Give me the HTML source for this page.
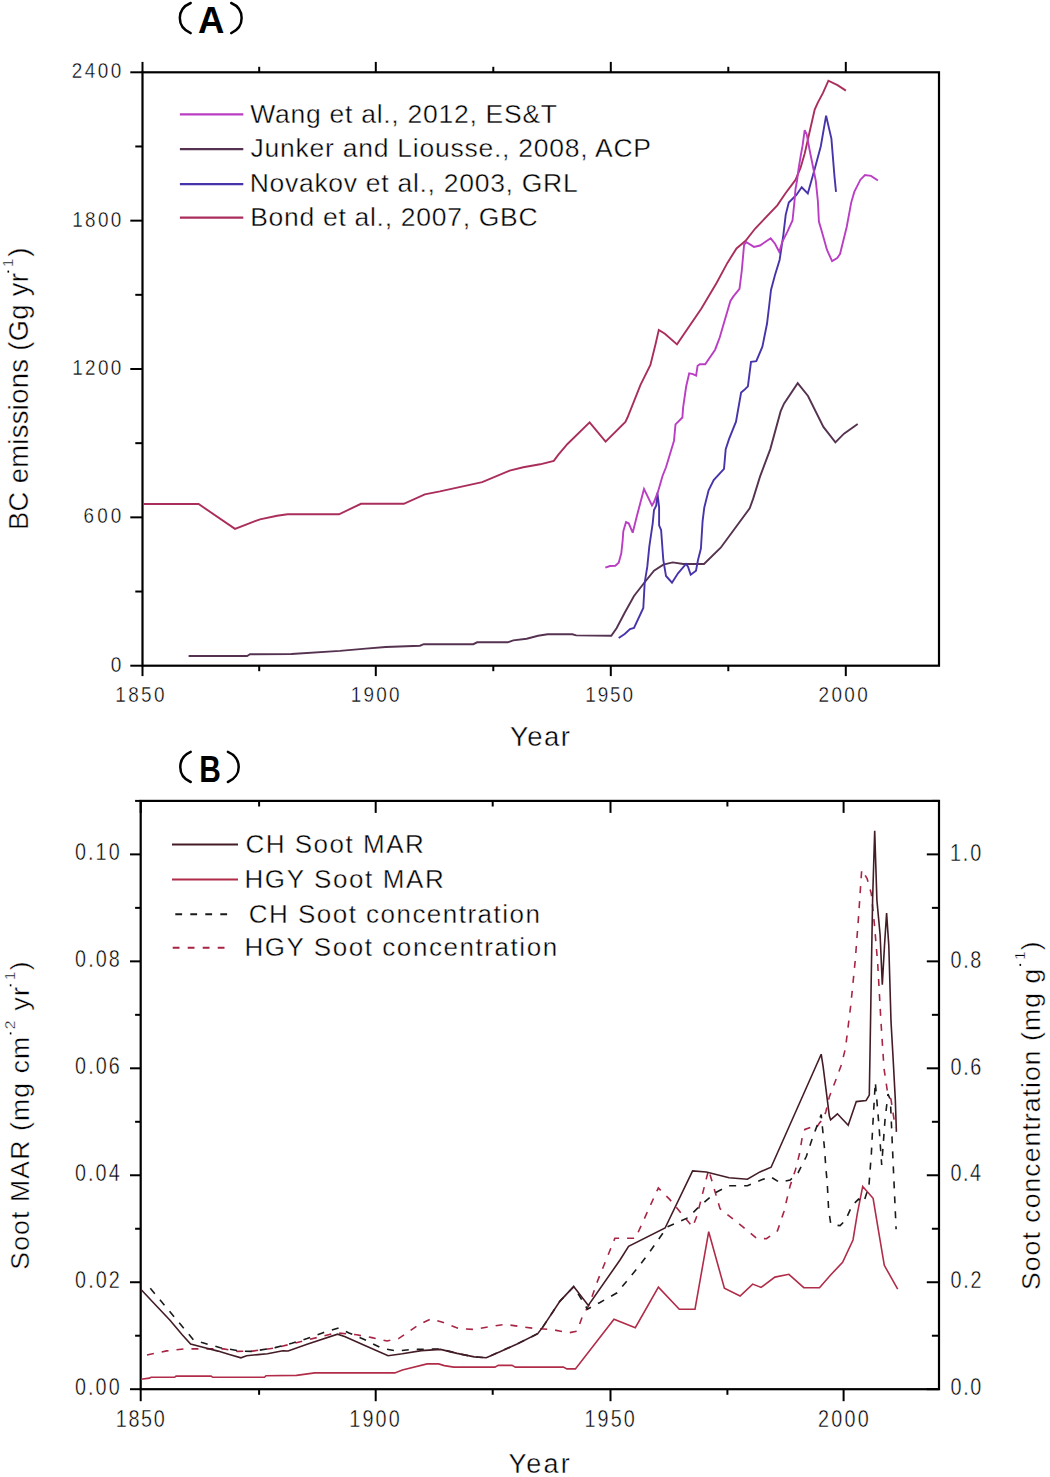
<!DOCTYPE html>
<html><head><meta charset="utf-8"><title>BC emissions and soot</title>
<style>
html,body{margin:0;padding:0;background:#fff;}
body{width:1050px;height:1477px;overflow:hidden;}
svg{display:block;}
svg text{font-family:"Liberation Sans", sans-serif;stroke:#fff;stroke-width:0.4px;}
</style></head>
<body>
<svg width="1050" height="1477" viewBox="0 0 1050 1477">
<rect x="0" y="0" width="1050" height="1477" fill="#fff"/>
<rect x="142.5" y="72.3" width="796.5" height="593.4000000000001" fill="none" stroke="#000" stroke-width="2.2"/>
<line x1="130.30" y1="665.70" x2="142.50" y2="665.70" stroke="#000" stroke-width="2"/>
<line x1="135.30" y1="591.53" x2="142.50" y2="591.53" stroke="#000" stroke-width="2"/>
<line x1="130.30" y1="517.35" x2="142.50" y2="517.35" stroke="#000" stroke-width="2"/>
<line x1="135.30" y1="443.17" x2="142.50" y2="443.17" stroke="#000" stroke-width="2"/>
<line x1="130.30" y1="369.00" x2="142.50" y2="369.00" stroke="#000" stroke-width="2"/>
<line x1="135.30" y1="294.82" x2="142.50" y2="294.82" stroke="#000" stroke-width="2"/>
<line x1="130.30" y1="220.65" x2="142.50" y2="220.65" stroke="#000" stroke-width="2"/>
<line x1="135.30" y1="146.47" x2="142.50" y2="146.47" stroke="#000" stroke-width="2"/>
<line x1="130.30" y1="72.30" x2="142.50" y2="72.30" stroke="#000" stroke-width="2"/>
<line x1="142.50" y1="665.70" x2="142.50" y2="676.10" stroke="#000" stroke-width="2"/>
<line x1="142.50" y1="72.30" x2="142.50" y2="61.90" stroke="#000" stroke-width="2"/>
<line x1="259.20" y1="665.70" x2="259.20" y2="671.20" stroke="#000" stroke-width="2"/>
<line x1="259.20" y1="72.30" x2="259.20" y2="66.80" stroke="#000" stroke-width="2"/>
<line x1="375.80" y1="665.70" x2="375.80" y2="676.10" stroke="#000" stroke-width="2"/>
<line x1="375.80" y1="72.30" x2="375.80" y2="61.90" stroke="#000" stroke-width="2"/>
<line x1="493.30" y1="665.70" x2="493.30" y2="671.20" stroke="#000" stroke-width="2"/>
<line x1="493.30" y1="72.30" x2="493.30" y2="66.80" stroke="#000" stroke-width="2"/>
<line x1="610.80" y1="665.70" x2="610.80" y2="676.10" stroke="#000" stroke-width="2"/>
<line x1="610.80" y1="72.30" x2="610.80" y2="61.90" stroke="#000" stroke-width="2"/>
<line x1="728.30" y1="665.70" x2="728.30" y2="671.20" stroke="#000" stroke-width="2"/>
<line x1="728.30" y1="72.30" x2="728.30" y2="66.80" stroke="#000" stroke-width="2"/>
<line x1="845.80" y1="665.70" x2="845.80" y2="676.10" stroke="#000" stroke-width="2"/>
<line x1="845.80" y1="72.30" x2="845.80" y2="61.90" stroke="#000" stroke-width="2"/>
<text transform="translate(111.40,671.60) scale(0.867,1.0)" x="-0.75" y="0" font-size="22" font-weight="400" fill="#000">0</text>
<text transform="translate(84.40,523.25) scale(0.86,1.0)" x="-1.00" y="0" font-size="22" font-weight="400" fill="#000" textLength="43.95" lengthAdjust="spacing">600</text>
<text transform="translate(73.70,374.90) scale(0.86,1.0)" x="-1.75" y="0" font-size="22" font-weight="400" fill="#000" textLength="57.12" lengthAdjust="spacing">1200</text>
<text transform="translate(73.80,226.55) scale(0.86,1.0)" x="-1.75" y="0" font-size="22" font-weight="400" fill="#000" textLength="57.01" lengthAdjust="spacing">1800</text>
<text transform="translate(72.60,78.20) scale(0.86,1.0)" x="-1.00" y="0" font-size="22" font-weight="400" fill="#000" textLength="57.65" lengthAdjust="spacing">2400</text>
<text transform="translate(116.70,701.70) scale(0.86,1.0)" x="-1.75" y="0" font-size="22" font-weight="400" fill="#000" textLength="57.47" lengthAdjust="spacing">1850</text>
<text transform="translate(352.20,701.70) scale(0.86,1.0)" x="-1.75" y="0" font-size="22" font-weight="400" fill="#000" textLength="56.77" lengthAdjust="spacing">1900</text>
<text transform="translate(586.80,701.70) scale(0.86,1.0)" x="-1.75" y="0" font-size="22" font-weight="400" fill="#000" textLength="55.38" lengthAdjust="spacing">1950</text>
<text transform="translate(819.40,701.70) scale(0.86,1.0)" x="-1.00" y="0" font-size="22" font-weight="400" fill="#000" textLength="57.30" lengthAdjust="spacing">2000</text>
<text x="509.95" y="746.30" font-size="27.5" font-weight="400" fill="#000" textLength="60.08" lengthAdjust="spacing">Year</text>
<path d="M190.7,3.0 C176.2,9.0 176.2,27.2 190.7,33.1" fill="none" stroke="#000" stroke-width="2.5" stroke-linecap="round"/>
<path d="M231.2,3.0 C245.1,9.0 245.1,27.2 231.2,33.1" fill="none" stroke="#000" stroke-width="2.5" stroke-linecap="round"/>
<text x="198.00" y="33.30" font-size="36.5" font-weight="700" fill="#000" style="stroke:none">A</text>
<text transform="translate(28.20,529.95) rotate(-90)" x="0" y="0" font-size="27.3" fill="#000" textLength="256.78" lengthAdjust="spacing">BC emissions (Gg yr</text>
<line x1="8.30" y1="272.60" x2="8.30" y2="270.60" stroke="#000" stroke-width="1.6"/>
<text transform="translate(12.6,267.2) rotate(-90)" font-size="15.5" fill="#000">1</text>
<text transform="translate(28.2,256.8) rotate(-90)" font-size="27.3" fill="#000">)</text>
<polyline points="142.9,504.0 198.6,504.0 235.0,528.9 260.0,519.3 277.1,515.7 287.6,514.3 339.0,514.3 361.0,503.8 403.8,503.8 424.8,494.3 440.0,491.4 482.2,482.1 509.6,470.7 523.3,467.3 540.1,464.3 553.8,460.8 558.4,454.7 567.5,444.0 589.6,422.4 605.6,441.7 625.4,421.9 627.5,417.5 640.5,384.8 650.4,365.0 655.7,343.6 658.8,329.9 664.9,333.7 677.0,344.4 701.4,308.6 716.7,282.7 727.4,262.9 736.5,248.4 745.6,240.8 755.2,228.5 777.3,205.3 785.5,193.2 795.5,179.9 800.6,167.7 804.7,153.5 807.7,140.3 814.7,109.6 817.7,102.8 823.0,92.9 828.4,80.7 837.5,85.2 845.9,90.6" fill="none" stroke="#AA2E5C" stroke-width="1.9" stroke-linejoin="miter" stroke-miterlimit="3"/>
<polyline points="188.6,656.0 247.1,656.0 250.0,654.3 291.4,654.0 340.0,650.9 365.7,648.6 385.7,647.0 420.0,645.7 423.8,644.2 473.3,644.2 477.1,642.3 507.6,642.3 513.3,640.4 526.7,638.7 538.1,635.8 547.6,634.3 572.4,634.3 576.2,635.4 611.3,635.7 616.7,628.0 624.7,612.7 634.0,596.0 643.3,584.0 654.0,570.7 663.3,564.7 672.7,562.4 683.3,564.0 704.0,564.0 720.7,547.7 749.7,508.3 753.1,498.9 760.0,476.6 770.3,449.1 780.6,411.4 784.0,403.7 797.7,383.1 808.0,396.0 823.4,426.9 835.4,442.3 844.0,433.7 857.7,424.0" fill="none" stroke="#553250" stroke-width="1.9" stroke-linejoin="miter" stroke-miterlimit="3"/>
<polyline points="618.7,638.0 624.7,634.0 630.0,629.0 634.0,628.0 643.3,608.0 644.7,582.7 647.3,566.7 649.3,546.7 652.7,523.3 654.0,510.0 656.3,505.4 657.4,492.9 659.1,507.1 659.1,525.4 661.1,530.0 663.3,560.0 666.0,576.0 672.0,582.7 678.0,573.3 686.0,564.0 688.0,566.7 690.7,574.7 696.0,570.7 698.0,560.0 700.9,548.6 702.6,521.2 704.3,507.4 708.6,490.3 713.7,480.0 724.0,468.9 725.7,449.1 729.1,438.9 736.0,421.7 741.1,392.6 744.1,390.1 747.9,386.3 751.0,361.9 756.3,361.1 762.4,346.7 767.0,323.8 769.2,305.5 771.0,290.0 775.0,275.0 779.6,260.0 783.4,234.6 785.7,214.8 788.8,202.6 796.4,195.0 801.7,187.3 807.8,193.4 814.7,169.0 820.8,146.2 826.1,115.7 831.4,138.6 834.5,176.7 836.0,191.9" fill="none" stroke="#4834AA" stroke-width="1.9" stroke-linejoin="miter" stroke-miterlimit="3"/>
<polyline points="605.3,567.7 610.0,566.0 615.3,565.7 618.7,562.7 621.3,553.3 622.7,540.0 623.3,531.3 626.0,522.0 628.7,523.3 632.7,532.7 636.7,516.7 644.0,488.9 652.0,505.4 654.0,502.0 658.0,491.7 662.6,475.7 666.0,467.3 674.0,440.7 675.5,424.4 682.4,417.5 683.1,407.6 686.2,386.3 689.2,373.3 693.0,374.1 696.1,375.6 697.6,365.7 699.9,364.2 705.2,364.2 715.1,349.7 719.7,337.5 730.4,301.0 733.4,296.4 739.5,288.8 741.8,270.5 744.1,244.6 746.4,242.3 754.0,246.9 760.0,245.5 770.7,238.3 775.0,243.7 779.3,252.0 782.3,241.8 787.4,231.7 792.5,220.5 794.5,201.2 795.5,189.0 797.0,180.9 798.6,168.7 800.6,156.5 802.6,145.4 804.7,130.2 806.7,134.2 809.7,150.5 812.8,165.7 815.8,180.9 817.9,201.2 818.9,221.5 821.9,231.7 827.0,250.0 832.1,261.1 837.2,258.1 840.0,254.0 846.7,227.0 851.2,202.6 854.3,191.9 860.4,179.7 865.0,175.1 871.0,175.9 877.9,180.5" fill="none" stroke="#BA3EC4" stroke-width="1.9" stroke-linejoin="miter" stroke-miterlimit="3"/>
<line x1="179.90" y1="114.40" x2="243.30" y2="114.40" stroke="#BA3EC4" stroke-width="2.2"/>
<text x="250.35" y="122.90" font-size="26.5" font-weight="400" fill="#000" textLength="306.62" lengthAdjust="spacing">Wang et al., 2012, ES&amp;T</text>
<line x1="179.90" y1="149.20" x2="243.30" y2="149.20" stroke="#553250" stroke-width="2.2"/>
<text x="250.50" y="157.40" font-size="26.5" font-weight="400" fill="#000" textLength="400.56" lengthAdjust="spacing">Junker and Liousse., 2008, ACP</text>
<line x1="179.90" y1="184.20" x2="243.30" y2="184.20" stroke="#4834AA" stroke-width="2.2"/>
<text x="249.65" y="191.60" font-size="26.5" font-weight="400" fill="#000" textLength="328.06" lengthAdjust="spacing">Novakov et al., 2003, GRL</text>
<line x1="179.90" y1="217.60" x2="243.30" y2="217.60" stroke="#AA2E5C" stroke-width="2.2"/>
<text x="250.15" y="225.80" font-size="26.5" font-weight="400" fill="#000" textLength="287.48" lengthAdjust="spacing">Bond et al., 2007, GBC</text>
<rect x="140.7" y="800.9" width="798.3" height="588.3000000000001" fill="none" stroke="#000" stroke-width="2.2"/>
<line x1="130.00" y1="1389.20" x2="140.70" y2="1389.20" stroke="#000" stroke-width="2"/>
<line x1="135.10" y1="1335.72" x2="140.70" y2="1335.72" stroke="#000" stroke-width="2"/>
<line x1="130.00" y1="1282.24" x2="140.70" y2="1282.24" stroke="#000" stroke-width="2"/>
<line x1="135.10" y1="1228.75" x2="140.70" y2="1228.75" stroke="#000" stroke-width="2"/>
<line x1="130.00" y1="1175.27" x2="140.70" y2="1175.27" stroke="#000" stroke-width="2"/>
<line x1="135.10" y1="1121.79" x2="140.70" y2="1121.79" stroke="#000" stroke-width="2"/>
<line x1="130.00" y1="1068.31" x2="140.70" y2="1068.31" stroke="#000" stroke-width="2"/>
<line x1="135.10" y1="1014.83" x2="140.70" y2="1014.83" stroke="#000" stroke-width="2"/>
<line x1="130.00" y1="961.35" x2="140.70" y2="961.35" stroke="#000" stroke-width="2"/>
<line x1="135.10" y1="907.86" x2="140.70" y2="907.86" stroke="#000" stroke-width="2"/>
<line x1="130.00" y1="854.38" x2="140.70" y2="854.38" stroke="#000" stroke-width="2"/>
<line x1="135.10" y1="800.90" x2="140.70" y2="800.90" stroke="#000" stroke-width="2"/>
<line x1="926.80" y1="1389.20" x2="939.00" y2="1389.20" stroke="#000" stroke-width="2"/>
<line x1="931.90" y1="1335.72" x2="939.00" y2="1335.72" stroke="#000" stroke-width="2"/>
<line x1="926.80" y1="1282.24" x2="939.00" y2="1282.24" stroke="#000" stroke-width="2"/>
<line x1="931.90" y1="1228.75" x2="939.00" y2="1228.75" stroke="#000" stroke-width="2"/>
<line x1="926.80" y1="1175.27" x2="939.00" y2="1175.27" stroke="#000" stroke-width="2"/>
<line x1="931.90" y1="1121.79" x2="939.00" y2="1121.79" stroke="#000" stroke-width="2"/>
<line x1="926.80" y1="1068.31" x2="939.00" y2="1068.31" stroke="#000" stroke-width="2"/>
<line x1="931.90" y1="1014.83" x2="939.00" y2="1014.83" stroke="#000" stroke-width="2"/>
<line x1="926.80" y1="961.35" x2="939.00" y2="961.35" stroke="#000" stroke-width="2"/>
<line x1="931.90" y1="907.86" x2="939.00" y2="907.86" stroke="#000" stroke-width="2"/>
<line x1="926.80" y1="854.38" x2="939.00" y2="854.38" stroke="#000" stroke-width="2"/>
<line x1="931.90" y1="800.90" x2="939.00" y2="800.90" stroke="#000" stroke-width="2"/>
<line x1="140.70" y1="1389.20" x2="140.70" y2="1401.20" stroke="#000" stroke-width="2"/>
<line x1="140.70" y1="800.90" x2="140.70" y2="812.90" stroke="#000" stroke-width="2"/>
<line x1="259.10" y1="1389.20" x2="259.10" y2="1394.80" stroke="#000" stroke-width="2"/>
<line x1="259.10" y1="800.90" x2="259.10" y2="806.50" stroke="#000" stroke-width="2"/>
<line x1="375.70" y1="1389.20" x2="375.70" y2="1401.20" stroke="#000" stroke-width="2"/>
<line x1="375.70" y1="800.90" x2="375.70" y2="812.90" stroke="#000" stroke-width="2"/>
<line x1="492.70" y1="1389.20" x2="492.70" y2="1394.80" stroke="#000" stroke-width="2"/>
<line x1="492.70" y1="800.90" x2="492.70" y2="806.50" stroke="#000" stroke-width="2"/>
<line x1="610.50" y1="1389.20" x2="610.50" y2="1401.20" stroke="#000" stroke-width="2"/>
<line x1="610.50" y1="800.90" x2="610.50" y2="812.90" stroke="#000" stroke-width="2"/>
<line x1="727.40" y1="1389.20" x2="727.40" y2="1394.80" stroke="#000" stroke-width="2"/>
<line x1="727.40" y1="800.90" x2="727.40" y2="806.50" stroke="#000" stroke-width="2"/>
<line x1="843.60" y1="1389.20" x2="843.60" y2="1401.20" stroke="#000" stroke-width="2"/>
<line x1="843.60" y1="800.90" x2="843.60" y2="812.90" stroke="#000" stroke-width="2"/>
<text transform="translate(75.90,1395.10) scale(0.86,1.0)" x="-1.00" y="0" font-size="23" font-weight="400" fill="#000" textLength="51.88" lengthAdjust="spacing">0.00</text>
<text transform="translate(75.90,1288.14) scale(0.86,1.0)" x="-1.00" y="0" font-size="23" font-weight="400" fill="#000" textLength="52.13" lengthAdjust="spacing">0.02</text>
<text transform="translate(75.90,1181.17) scale(0.86,1.0)" x="-1.00" y="0" font-size="23" font-weight="400" fill="#000" textLength="51.88" lengthAdjust="spacing">0.04</text>
<text transform="translate(75.90,1074.21) scale(0.86,1.0)" x="-1.00" y="0" font-size="23" font-weight="400" fill="#000" textLength="52.13" lengthAdjust="spacing">0.06</text>
<text transform="translate(75.90,967.25) scale(0.86,1.0)" x="-1.00" y="0" font-size="23" font-weight="400" fill="#000" textLength="52.13" lengthAdjust="spacing">0.08</text>
<text transform="translate(75.90,860.28) scale(0.86,1.0)" x="-1.00" y="0" font-size="23" font-weight="400" fill="#000" textLength="51.88" lengthAdjust="spacing">0.10</text>
<text transform="translate(951.40,1395.40) scale(0.86,1.0)" x="-1.00" y="0" font-size="23" font-weight="400" fill="#000" textLength="35.82" lengthAdjust="spacing">0.0</text>
<text transform="translate(951.40,1288.44) scale(0.86,1.0)" x="-1.00" y="0" font-size="23" font-weight="400" fill="#000" textLength="36.07" lengthAdjust="spacing">0.2</text>
<text transform="translate(951.40,1181.47) scale(0.86,1.0)" x="-1.00" y="0" font-size="23" font-weight="400" fill="#000" textLength="35.57" lengthAdjust="spacing">0.4</text>
<text transform="translate(951.40,1074.51) scale(0.86,1.0)" x="-1.00" y="0" font-size="23" font-weight="400" fill="#000" textLength="35.82" lengthAdjust="spacing">0.6</text>
<text transform="translate(951.40,967.55) scale(0.86,1.0)" x="-1.00" y="0" font-size="23" font-weight="400" fill="#000" textLength="35.82" lengthAdjust="spacing">0.8</text>
<text transform="translate(951.40,860.58) scale(0.86,1.0)" x="-1.75" y="0" font-size="23" font-weight="400" fill="#000" textLength="36.57" lengthAdjust="spacing">1.0</text>
<text transform="translate(117.30,1426.80) scale(0.86,1.0)" x="-1.75" y="0" font-size="23" font-weight="400" fill="#000" textLength="56.97" lengthAdjust="spacing">1850</text>
<text transform="translate(350.70,1426.80) scale(0.86,1.0)" x="-1.75" y="0" font-size="23" font-weight="400" fill="#000" textLength="58.83" lengthAdjust="spacing">1900</text>
<text transform="translate(586.00,1426.80) scale(0.86,1.0)" x="-1.75" y="0" font-size="23" font-weight="400" fill="#000" textLength="58.49" lengthAdjust="spacing">1950</text>
<text transform="translate(819.00,1426.80) scale(0.86,1.0)" x="-1.25" y="0" font-size="23" font-weight="400" fill="#000" textLength="59.03" lengthAdjust="spacing">2000</text>
<text x="508.55" y="1472.80" font-size="27" font-weight="400" fill="#000" textLength="61.31" lengthAdjust="spacing">Year</text>
<path d="M190.7,751.9 C176.8,757.8 176.8,776.1 190.7,782.0" fill="none" stroke="#000" stroke-width="2.5" stroke-linecap="round"/>
<path d="M227.9,751.9 C242.3,757.8 242.3,776.1 227.9,782.0" fill="none" stroke="#000" stroke-width="2.5" stroke-linecap="round"/>
<text transform="translate(201.40,781.70) scale(0.82,1.0)" x="-2.50" y="0" font-size="36.5" font-weight="700" fill="#000" style="stroke:none">B</text>
<text transform="translate(29.30,1269.65) rotate(-90)" x="0" y="0" font-size="26.5" fill="#000" textLength="232.85" lengthAdjust="spacing">Soot MAR (mg cm</text>
<line x1="10.60" y1="1034.40" x2="10.60" y2="1032.40" stroke="#000" stroke-width="1.6"/>
<text transform="translate(15.0,1029.2) rotate(-90)" font-size="15.5" fill="#000">2</text>
<text transform="translate(29.30,1010.50) rotate(-90)" x="0" y="0" font-size="26.5" fill="#000" textLength="23.33" lengthAdjust="spacing">yr</text>
<line x1="10.60" y1="986.30" x2="10.60" y2="984.30" stroke="#000" stroke-width="1.6"/>
<text transform="translate(14.6,980.2) rotate(-90)" font-size="15.5" fill="#000">1</text>
<text transform="translate(29.3,970.3) rotate(-90)" font-size="26.5" fill="#000">)</text>
<text transform="translate(1039.80,1290.05) rotate(-90)" x="0" y="0" font-size="26.5" fill="#000" textLength="321.29" lengthAdjust="spacing">Soot concentration (mg g</text>
<line x1="1020.30" y1="965.90" x2="1020.30" y2="963.90" stroke="#000" stroke-width="1.6"/>
<text transform="translate(1024.7,960.0) rotate(-90)" font-size="15.5" fill="#000">1</text>
<text transform="translate(1039.8,950.2) rotate(-90)" font-size="26.5" fill="#000">)</text>
<polyline points="141.0,1379.2 149.4,1378.1 151.0,1377.3 174.6,1377.3 176.1,1376.1 211.1,1376.1 212.7,1377.3 264.5,1377.3 266.0,1375.8 296.5,1375.4 314.8,1372.9 394.8,1372.9 402.4,1370.0 427.1,1363.9 438.6,1363.9 444.3,1365.6 453.7,1367.1 494.9,1367.1 498.3,1365.4 512.0,1365.4 515.4,1367.1 563.4,1367.1 566.9,1368.9 575.4,1368.9 614.0,1319.2 635.3,1327.7 658.4,1287.2 679.3,1309.2 695.0,1309.2 708.7,1231.7 724.4,1288.3 740.1,1296.0 752.7,1284.1 761.1,1287.4 774.9,1277.1 788.9,1274.3 803.8,1287.7 819.5,1287.7 830.6,1275.0 842.6,1262.3 853.0,1240.0 857.4,1213.2 862.7,1186.4 873.1,1198.3 878.3,1229.6 884.3,1265.3 897.7,1289.2" fill="none" stroke="#B02C48" stroke-width="1.6" stroke-linejoin="miter" stroke-miterlimit="3"/>
<polyline points="147.0,1355.0 166.6,1350.9 183.7,1348.9 223.7,1348.9 237.4,1351.4 252.3,1351.1 275.0,1348.0 288.0,1344.8 336.0,1332.8 356.7,1334.8 371.9,1337.6 387.1,1341.0 398.6,1338.6 419.5,1324.3 431.0,1319.0 443.4,1322.6 458.9,1328.6 474.3,1329.4 488.0,1326.9 505.1,1324.3 522.3,1326.9 536.0,1328.6 551.4,1329.4 568.6,1332.9 577.1,1331.1 582.3,1316.6 589.2,1304.6 597.7,1280.6 614.9,1238.3 635.4,1238.3 658.3,1188.0 669.7,1199.4 692.6,1226.9 697.1,1215.4 708.6,1169.7 720.0,1208.6 742.9,1226.9 756.6,1238.3 766.4,1238.7 777.5,1230.8 783.9,1211.7 790.0,1186.3 795.4,1170.0 799.5,1153.8 802.2,1137.5 804.9,1129.4 810.3,1127.4 815.7,1128.7 819.8,1122.6 822.5,1119.9 825.9,1111.8 829.3,1096.9 836.1,1079.3 841.5,1064.4 845.5,1048.1 850.9,1004.1 855.2,960.8 858.5,917.5 861.7,869.8 867.1,878.5 871.3,893.6 874.5,925.4 877.7,963.6 880.9,1020.8 884.0,1068.5 887.2,1090.0 891.0,1099.4 895.3,1127.6" fill="none" stroke="#A82444" stroke-width="1.6" stroke-linejoin="miter" stroke-miterlimit="3" stroke-dasharray="7,8"/>
<polyline points="150.3,1288.3 193.4,1339.7 202.0,1342.6 220.3,1347.7 240.9,1351.1 252.3,1351.4 275.1,1347.6 291.9,1343.3 307.1,1338.6 322.4,1332.9 338.6,1328.1 349.0,1332.9 364.3,1339.5 381.4,1348.1 396.7,1351.0 411.9,1349.4 440.5,1349.0 457.1,1353.4 474.3,1356.9 486.3,1357.7 500.0,1351.7 517.1,1344.0 537.7,1333.7 542.9,1326.9 560.0,1301.1 573.7,1286.6 587.4,1309.1 600.0,1302.5 617.1,1292.8 640.0,1265.0 651.4,1249.5 667.4,1226.9 688.0,1217.7 697.1,1208.6 715.4,1192.6 729.1,1185.7 747.4,1185.7 761.1,1180.0 770.3,1176.6 779.4,1182.3 790.2,1180.0 798.1,1172.7 806.3,1156.5 811.7,1140.2 815.7,1129.4 821.2,1114.5 822.5,1128.0 824.5,1148.4 825.9,1168.7 827.2,1182.2 828.6,1209.3 830.6,1222.9 832.0,1224.9 840.1,1225.6 845.5,1220.1 852.1,1205.6 858.6,1199.1 863.7,1202.3 868.9,1186.3 871.4,1152.9 872.7,1127.1 875.3,1082.1 879.1,1127.1 881.7,1165.0 885.0,1120.0 888.0,1094.0 890.4,1100.0 893.0,1160.0 896.1,1229.2" fill="none" stroke="#1A1A1A" stroke-width="1.6" stroke-linejoin="miter" stroke-miterlimit="3" stroke-dasharray="7,8"/>
<polyline points="141.0,1289.5 156.3,1305.7 170.0,1320.2 182.2,1334.7 190.6,1344.1 202.0,1347.1 218.0,1351.1 229.4,1354.6 240.9,1357.8 246.6,1355.7 258.0,1354.6 267.5,1353.7 282.8,1350.7 288.1,1351.0 307.1,1344.3 337.6,1334.2 345.2,1336.7 364.3,1345.2 388.1,1355.7 402.4,1353.8 421.4,1350.6 440.5,1349.4 457.1,1353.4 474.3,1356.9 486.3,1357.7 500.0,1351.7 517.1,1344.0 537.7,1333.7 542.9,1326.9 560.0,1301.1 573.7,1286.6 588.3,1305.4 620.0,1260.0 628.6,1246.3 665.1,1228.0 692.6,1170.9 706.3,1172.0 729.1,1177.7 747.4,1179.3 760.0,1171.9 771.1,1167.2 821.2,1054.2 823.2,1067.1 826.6,1094.2 829.3,1115.8 830.6,1119.9 837.4,1113.8 848.2,1125.3 856.3,1101.6 866.1,1100.5 869.3,1095.1 870.4,1030.1 871.5,963.0 872.6,900.1 874.7,830.8 876.9,900.1 880.1,934.8 882.3,984.6 884.5,945.6 886.6,913.1 888.8,945.6 891.0,1021.4 893.1,1058.2 895.3,1099.4 896.4,1131.9" fill="none" stroke="#441C26" stroke-width="1.6" stroke-linejoin="miter" stroke-miterlimit="3"/>
<line x1="172.00" y1="844.50" x2="238.00" y2="844.50" stroke="#441C26" stroke-width="2.0"/>
<text x="245.45" y="853.00" font-size="26" font-weight="400" fill="#000" textLength="178.32" lengthAdjust="spacing">CH Soot MAR</text>
<line x1="172.00" y1="879.40" x2="238.00" y2="879.40" stroke="#B02C48" stroke-width="2.0"/>
<text x="244.45" y="888.00" font-size="26" font-weight="400" fill="#000" textLength="199.29" lengthAdjust="spacing">HGY Soot MAR</text>
<line x1="175.30" y1="914.30" x2="228.00" y2="914.30" stroke="#1A1A1A" stroke-width="2.0" stroke-dasharray="6.8,8.2"/>
<text x="248.75" y="922.70" font-size="26" font-weight="400" fill="#000" textLength="291.14" lengthAdjust="spacing">CH Soot concentration</text>
<line x1="172.70" y1="947.70" x2="224.70" y2="947.70" stroke="#A82444" stroke-width="2.0" stroke-dasharray="6.8,8.2"/>
<text x="244.45" y="955.70" font-size="26" font-weight="400" fill="#000" textLength="312.71" lengthAdjust="spacing">HGY Soot concentration</text>
</svg>
</body></html>
